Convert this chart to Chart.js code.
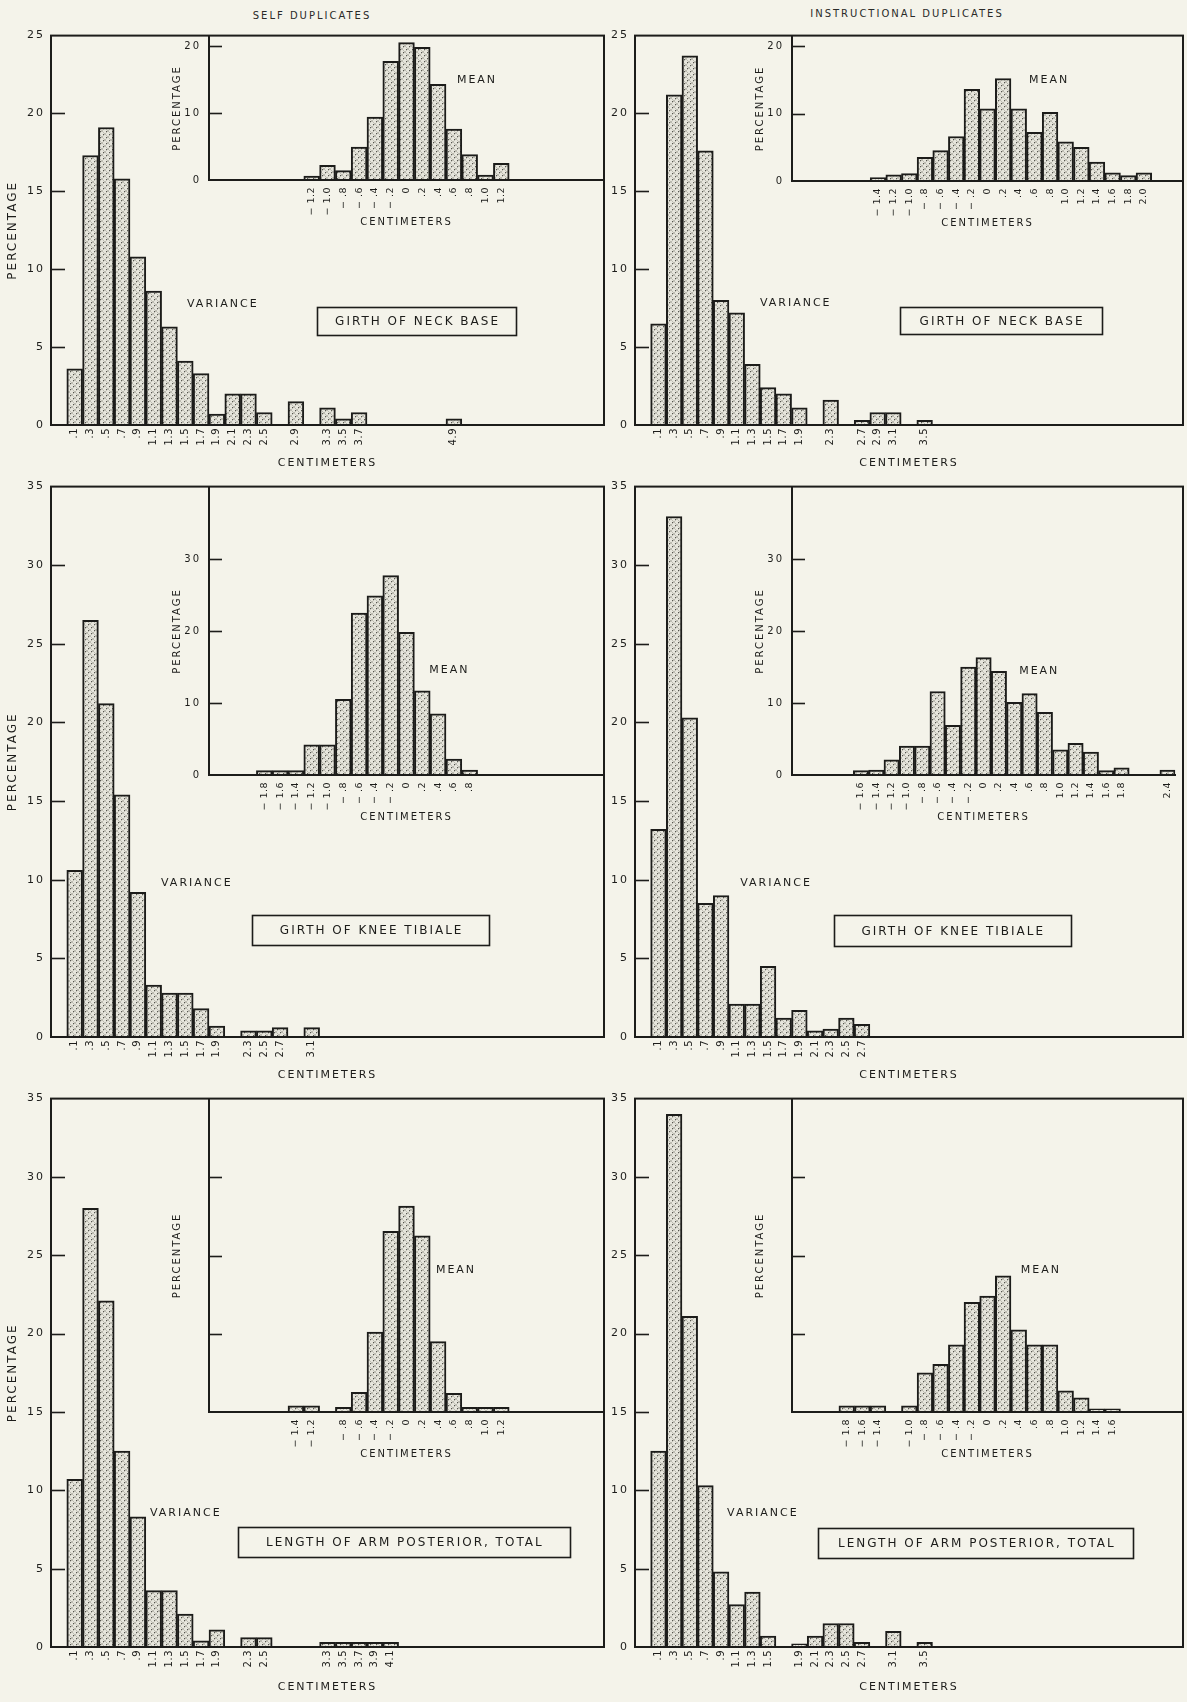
<!DOCTYPE html>
<html><head><meta charset="utf-8">
<script src="https://cdn.jsdelivr.net/npm/chart.js@4/dist/chart.umd.min.js"></script>
<style>
html,body{margin:0;padding:0;}
body{background:#f4f3ea;width:1187px;height:1702px;position:relative;overflow:hidden;}
canvas{position:absolute;}
.coltitle{position:absolute;transform:translate(-50%,-50%);font:10px "DejaVu Sans";letter-spacing:2px;color:#2a2a28;white-space:nowrap;}
</style></head><body>
<div class="coltitle" style="left:312px;top:15px">SELF DUPLICATES</div>
<div class="coltitle" style="left:907px;top:13px">INSTRUCTIONAL DUPLICATES</div>
<script>
// ---------------- data ----------------
const yTicks25 = [0,5,10,15,20,25];
const yTicks35 = [0,5,10,15,20,25,30,35];
const insetTicks20 = [0,10,20];
const insetTicks30 = [0,10,20,30];

// Girth of neck base — self duplicates
const selfNeckVarX  = [0.1,0.3,0.5,0.7,0.9,1.1,1.3,1.5,1.7,1.9,2.1,2.3,2.5,2.9,3.3,3.5,3.7,4.9];
const selfNeckVarY  = [3.6,17.3,19.1,15.8,10.8,8.6,6.3,4.1,3.3,0.7,2.0,2.0,0.8,1.5,1.1,0.4,0.8,0.4];
const selfNeckMeanX = [-1.2,-1.0,-0.8,-0.6,-0.4,-0.2,0,0.2,0.4,0.6,0.8,1.0,1.2];
const selfNeckMeanY = [0.6,2.2,1.4,4.9,9.4,17.7,20.5,19.8,14.3,7.6,3.8,0.75,2.5];

// Girth of neck base — instructional duplicates
const instrNeckVarX  = [0.1,0.3,0.5,0.7,0.9,1.1,1.3,1.5,1.7,1.9,2.3,2.7,2.9,3.1,3.5];
const instrNeckVarY  = [6.5,21.2,23.7,17.6,8.0,7.2,3.9,2.4,2.0,1.1,1.6,0.3,0.8,0.8,0.3];
const instrNeckMeanX = [-1.4,-1.2,-1.0,-0.8,-0.6,-0.4,-0.2,0,0.2,0.4,0.6,0.8,1.0,1.2,1.4,1.6,1.8,2.0];
const instrNeckMeanY = [0.5,0.9,1.1,3.5,4.5,6.6,13.6,10.7,15.2,10.7,7.2,10.2,5.8,5.0,2.8,1.2,0.8,1.2];

// Girth of knee tibiale — self duplicates
const selfKneeVarX  = [0.1,0.3,0.5,0.7,0.9,1.1,1.3,1.5,1.7,1.9,2.3,2.5,2.7,3.1];
const selfKneeVarY  = [10.6,26.5,21.2,15.4,9.2,3.3,2.8,2.8,1.8,0.7,0.4,0.4,0.6,0.6];
const selfKneeMeanX = [-1.8,-1.6,-1.4,-1.2,-1.0,-0.8,-0.6,-0.4,-0.2,0,0.2,0.4,0.6,0.8];
const selfKneeMeanY = [0.6,0.6,0.6,4.2,4.2,10.5,22.5,24.9,27.7,19.8,11.7,8.5,2.2,0.7];

// Girth of knee tibiale — instructional duplicates
const instrKneeVarX  = [0.1,0.3,0.5,0.7,0.9,1.1,1.3,1.5,1.7,1.9,2.1,2.3,2.5,2.7];
const instrKneeVarY  = [13.2,33.1,20.3,8.5,9.0,2.1,2.1,4.5,1.2,1.7,0.4,0.5,1.2,0.8];
const instrKneeMeanX = [-1.6,-1.4,-1.2,-1.0,-0.8,-0.6,-0.4,-0.2,0,0.2,0.4,0.6,0.8,1.0,1.2,1.4,1.6,1.8,2.4];
const instrKneeMeanY = [0.6,0.7,2.1,4.0,4.0,11.6,6.9,15.0,16.3,14.4,10.1,11.3,8.7,3.5,4.4,3.2,0.6,1.0,0.7];

// Length of arm posterior, total — self duplicates
const selfArmVarX  = [0.1,0.3,0.5,0.7,0.9,1.1,1.3,1.5,1.7,1.9,2.3,2.5,3.3,3.5,3.7,3.9,4.1];
const selfArmVarY  = [10.7,28.0,22.1,12.5,8.3,3.6,3.6,2.1,0.4,1.1,0.6,0.6,0.3,0.3,0.3,0.3,0.3];
const selfArmMeanX = [-1.4,-1.2,-0.8,-0.6,-0.4,-0.2,0,0.2,0.4,0.6,0.8,1.0,1.2];
const selfArmMeanY = [0.8,0.8,0.6,2.5,10.2,23.1,26.3,22.5,9.0,2.4,0.6,0.6,0.6];

// Length of arm posterior, total — instructional duplicates
const instrArmVarX  = [0.1,0.3,0.5,0.7,0.9,1.1,1.3,1.5,1.9,2.1,2.3,2.5,2.7,3.1,3.5];
const instrArmVarY  = [12.5,34.0,21.1,10.3,4.8,2.7,3.5,0.7,0.2,0.7,1.5,1.5,0.3,1.0,0.3];
const instrArmMeanX = [-1.8,-1.6,-1.4,-1.0,-0.8,-0.6,-0.4,-0.2,0,0.2,0.4,0.6,0.8,1.0,1.2,1.4,1.6];
const instrArmMeanY = [0.8,0.8,0.8,0.8,5.0,6.1,8.6,14.0,14.8,17.4,10.5,8.6,8.6,2.7,1.8,0.4,0.4];

const panelTitles = ['GIRTH OF NECK BASE','GIRTH OF NECK BASE','GIRTH OF KNEE TIBIALE','GIRTH OF KNEE TIBIALE','LENGTH OF ARM POSTERIOR, TOTAL','LENGTH OF ARM POSTERIOR, TOTAL'];

// ---------------- layout / style ----------------
const INK = '#1c1c1a';
const FONT = '"DejaVu Sans", "Liberation Sans", sans-serif';
const rowsGeom  = [{top:36,bottom:426,titleY:464},{top:487,bottom:1039,titleY:1077},{top:1099,bottom:1649,titleY:1689}];
const rowCanvas = [{top:24,bottom:478},{top:476,bottom:1090},{top:1088,bottom:1702}];
const colsGeom  = [{left:51,right:604,cl:0,cr:608},{left:635,right:1183,cl:608,cr:1187}];

const panels = [
 {row:0,col:0,varX:selfNeckVarX,varY:selfNeckVarY,meanX:selfNeckMeanX,meanY:selfNeckMeanY,yMax:25,yTicks:yTicks25,insetBase:15.05,insetMax:21.5,insetTicks:insetTicks20,insetLabels:true,
  notes:{variance:[0.246,0.690],mean:[0.734,0.115],box:[0.661,0.733,199,28]}},
 {row:0,col:1,varX:instrNeckVarX,varY:instrNeckVarY,meanX:instrNeckMeanX,meanY:instrNeckMeanY,yMax:25,yTicks:yTicks25,insetBase:15.0,insetMax:21.5,insetTicks:insetTicks20,insetLabels:true,
  notes:{variance:[0.228,0.687],mean:[0.719,0.115],box:[0.668,0.732,202,27]}},
 {row:1,col:0,varX:selfKneeVarX,varY:selfKneeVarY,meanX:selfKneeMeanX,meanY:selfKneeMeanY,yMax:35,yTicks:yTicks35,insetBase:16,insetMax:40,insetTicks:insetTicks30,insetLabels:true,
  notes:{variance:[0.199,0.721],mean:[0.684,0.333],box:[0.578,0.806,237,30]}},
 {row:1,col:1,varX:instrKneeVarX,varY:instrKneeVarY,meanX:instrKneeMeanX,meanY:instrKneeMeanY,yMax:35,yTicks:yTicks35,insetBase:16,insetMax:40,insetTicks:insetTicks30,insetLabels:true,
  notes:{variance:[0.192,0.721],mean:[0.701,0.335],box:[0.579,0.807,237,31]}},
 {row:2,col:0,varX:selfArmVarX,varY:selfArmVarY,meanX:selfArmMeanX,meanY:selfArmMeanY,yMax:35,yTicks:yTicks35,insetBase:15,insetMax:40,insetTicks:insetTicks30,insetLabels:false,
  notes:{variance:[0.179,0.755],mean:[0.696,0.313],box:[0.638,0.809,332,30]}},
 {row:2,col:1,varX:instrArmVarX,varY:instrArmVarY,meanX:instrArmMeanX,meanY:instrArmMeanY,yMax:35,yTicks:yTicks35,insetBase:15,insetMax:40,insetTicks:insetTicks30,insetLabels:false,
  notes:{variance:[0.168,0.756],mean:[0.704,0.313],box:[0.622,0.811,315,30]}}
];

function makePattern(){
  const c = document.createElement('canvas'); c.width = 6; c.height = 6;
  const g = c.getContext('2d');
  g.fillStyle = '#e6e5dc'; g.fillRect(0,0,6,6);
  g.fillStyle = '#bdbcb2';
  for (let i=0;i<6;i++){ g.fillRect(i,i,1,1); g.fillRect(5-i,i,1,1); }
  g.fillStyle = '#55554f'; g.fillRect(1,3,1,1); g.fillRect(4,0,1,1);
  return g.createPattern(c,'repeat');
}
const PATTERN = makePattern();

function fmtVar(v){ const s = v.toFixed(1); return s.startsWith('0') ? s.slice(1) : s; }
function fmtMean(v){
  if (Math.abs(v) < 1e-9) return '0';
  const a = Math.abs(v).toFixed(1); const s = a.startsWith('0') ? a.slice(1) : a;
  return v < 0 ? '\u2212 ' + s : s;
}

function inwardTicks(chart, values, len){
  const {ctx, chartArea:a} = chart; const ys = chart.scales.y;
  ctx.save(); ctx.letterSpacing='0px'; ctx.strokeStyle = INK; ctx.lineWidth = 1.6;
  values.forEach(v => { const py = Math.round(ys.getPixelForValue(v))+0.5;
    ctx.beginPath(); ctx.moveTo(a.left, py); ctx.lineTo(a.left+len, py); ctx.stroke(); });
  ctx.restore();
}

const mainDecor = {
  id:'mainDecor',
  beforeDraw(chart){ chart.ctx.letterSpacing = '2px'; },
  afterDatasetsDraw(chart){
    const p = chart.options.plugins.mainDecor.panel;
    const {ctx, chartArea:a} = chart;
    ctx.save(); ctx.letterSpacing='0px'; ctx.strokeStyle = INK; ctx.lineWidth = 2;
    ctx.strokeRect(a.left, a.top, a.right-a.left, a.bottom-a.top); ctx.restore();
    inwardTicks(chart, p.yTicks.filter(v => v>0 && v<p.yMax), 14);
    chart.ctx.letterSpacing = '0.5px';
  },
  afterDraw(chart){
    const p = chart.options.plugins.mainDecor.panel;
    const {ctx, chartArea:a} = chart; const W = a.right-a.left, H = a.bottom-a.top;
    ctx.save();
    ctx.fillStyle = INK; ctx.strokeStyle = INK; ctx.textBaseline = 'middle'; ctx.textAlign = 'left';
    ctx.font = '11px ' + FONT; ctx.letterSpacing = '2px';
    ctx.fillText('VARIANCE', a.left + p.notes.variance[0]*W, a.top + p.notes.variance[1]*H);
    ctx.fillText('MEAN', a.left + p.notes.mean[0]*W, a.top + p.notes.mean[1]*H);
    const [fx, fy, bw, bh] = p.notes.box; const cx = a.left + fx*W, cy = a.top + fy*H;
    ctx.lineWidth = 1.6; ctx.strokeRect(Math.round(cx-bw/2)+0.5, Math.round(cy-bh/2)+0.5, bw, bh);
    ctx.font = '12px ' + FONT; ctx.textAlign = 'center';
    ctx.fillText(p.title, cx + 1, cy + 1);
    ctx.restore();
  }
};

const insetDecor = {
  id:'insetDecor',
  beforeDraw(chart){ chart.ctx.letterSpacing = '2px'; },
  afterDatasetsDraw(chart){
    const p = chart.options.plugins.insetDecor.panel;
    inwardTicks(chart, p.insetTicks.filter(v => v>0), 13);
    chart.ctx.letterSpacing = '0.5px';
  }
};

function addCanvas(left, top, w, h){
  const c = document.createElement('canvas');
  c.width = w; c.height = h; c.style.width = w+'px'; c.style.height = h+'px';
  c.style.left = left+'px'; c.style.top = top+'px';
  document.body.appendChild(c); return c;
}

panels.forEach((p, idx) => {
  p.title = panelTitles[idx];
  const g = rowsGeom[p.row], cv = rowCanvas[p.row], cg = colsGeom[p.col];
  const W = cg.cr - cg.cl, H = cv.bottom - cv.top;
  const yW = cg.left - cg.cl, xH = cv.bottom - g.bottom;
  const canvas = addCanvas(cg.cl, cv.top, W, H);
  const main = new Chart(canvas, {
    type:'bar',
    data:{datasets:[{
      data: p.varX.map((x,i) => ({x:x, y:p.varY[i]})),
      backgroundColor: PATTERN, borderColor: INK, borderWidth: 2, borderSkipped: 'start',
      barPercentage: 1, categoryPercentage: 1
    }]},
    options:{
      responsive:false, animation:false, events:[], devicePixelRatio:1,
      layout:{autoPadding:false, padding:{left:0, top:g.top - cv.top, right:cg.cr - cg.right, bottom:0}},
      plugins:{legend:{display:false}, tooltip:{enabled:false}, mainDecor:{panel:p}},
      scales:{
        x:{type:'linear', min:-0.2, max:6.8, offset:false,
          afterBuildTicks: s => { s.ticks = p.varX.map(v => ({value:v})); },
          afterFit: s => { s.height = xH; },
          grid:{display:false, drawTicks:false, offset:false},
          border:{display:true, color:INK, width:2, z:1},
          ticks:{autoSkip:false, minRotation:90, maxRotation:90, padding:3, color:INK, z:1,
                 font:{family:FONT, size:10}, callback: v => fmtVar(v)},
          title:{display:true, text:'CENTIMETERS', color:INK, font:{family:FONT, size:11}, padding:{top:0, bottom: cv.bottom - g.titleY - 6.6}}
        },
        y:{type:'linear', min:0, max:p.yMax,
          afterBuildTicks: s => { s.ticks = p.yTicks.map(v => ({value:v})); },
          afterFit: s => { s.width = yW; },
          grid:{display:false, drawTicks:false},
          border:{display:true, color:INK, width:2},
          ticks:{padding:6, color:INK, font:{family:FONT, size:11}},
          title:{display: p.col === 0, text:'PERCENTAGE', color:INK, font:{family:FONT, size:12}, padding:{top:6, bottom:0}}
        }
      }
    },
    plugins:[mainDecor]
  });
  // correct canvas so chart area sits exactly at the target box
  const a = main.chartArea;
  const offX = cg.left - (cg.cl + a.left), offY = g.top - (cv.top + a.top);
  canvas.style.left = (cg.cl + offX) + 'px'; canvas.style.top = (cv.top + offY) + 'px';
  const baseLeft = cg.cl + offX, baseTop = cv.top + offY;

  // ---- inset (mean) chart, placed in the upper right of the main plot ----
  const iLeft = baseLeft + main.scales.x.getPixelForValue(1.8);
  const iRight = baseLeft + a.right;
  const iTop = baseTop + a.top;
  const iBottom = baseTop + main.scales.y.getPixelForValue(p.insetBase);
  const yWi = 50, topPad = 3, rightPad = 3, xHi = 58;
  const iw = Math.round(iRight - iLeft + yWi + rightPad), ih = Math.round(iBottom - iTop + topPad + xHi);
  const ic = addCanvas(iLeft - yWi, iTop - topPad, iw, ih);
  const inset = new Chart(ic, {
    type:'bar',
    data:{datasets:[{
      data: p.meanX.map((x,i) => ({x:x, y:p.meanY[i]})),
      backgroundColor: PATTERN, borderColor: INK, borderWidth: 2, borderSkipped: 'start',
      barPercentage: 1, categoryPercentage: 1
    }]},
    options:{
      responsive:false, animation:false, events:[], devicePixelRatio:1,
      layout:{autoPadding:false, padding:{left:0, top:topPad, right:rightPad, bottom:0}},
      plugins:{legend:{display:false}, tooltip:{enabled:false}, insetDecor:{panel:p}},
      scales:{
        x:{type:'linear', min:-2.5, max:2.5, offset:false,
          afterBuildTicks: s => { s.ticks = p.meanX.map(v => ({value:v})); },
          afterFit: s => { s.height = xHi; },
          grid:{display:false, drawTicks:false, offset:false},
          border:{display:true, color:INK, width:2, z:1},
          ticks:{autoSkip:false, minRotation:90, maxRotation:90, padding:7, color:INK, z:1,
                 font:{family:FONT, size:9.5}, callback: v => fmtMean(v)},
          title:{display:true, text:'CENTIMETERS', color:INK, font:{family:FONT, size:10}, padding:{top:0, bottom:10}}
        },
        y:{type:'linear', min:0, max:p.insetMax,
          afterBuildTicks: s => { s.ticks = p.insetTicks.map(v => ({value:v})); },
          afterFit: s => { s.width = yWi; },
          grid:{display:false, drawTicks:false},
          border:{display:true, color:INK, width:2},
          ticks:{display:p.insetLabels, padding:8, color:INK, font:{family:FONT, size:10}},
          title:{display:true, text:'PERCENTAGE', color:INK, font:{family:FONT, size:10}, padding:{top:12, bottom:0}}
        }
      }
    },
    plugins:[insetDecor]
  });
  const ia = inset.chartArea;
  ic.style.left = (iLeft - ia.left) + 'px';
  ic.style.top = (iTop - ia.top) + 'px';
});
</script>
</body></html>
